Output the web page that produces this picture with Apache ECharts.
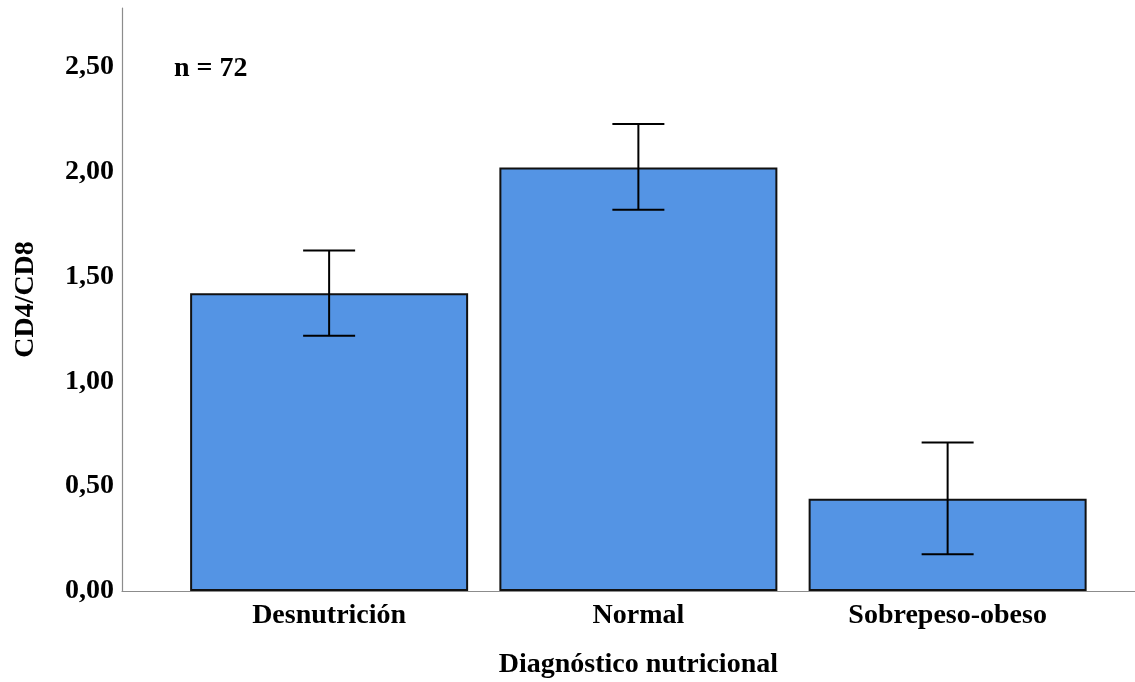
<!DOCTYPE html>
<html>
<head>
<meta charset="utf-8">
<script src="https://cdn.jsdelivr.net/npm/echarts@6/dist/echarts.min.js"></script>
<style>html,body{margin:0;padding:0;background:#fff}#c{width:1135px;height:682px}</style>
</head>
<body>
<div id="c"></div>
<script>
const categories = ['Desnutrición', 'Normal', 'Sobrepeso-obeso'];
const means = [1.42, 2.02, 0.44];
const ciLow = [1.217, 1.818, 0.175];
const ciHigh = [1.624, 2.227, 0.708];
const yTicks = [0, 0.5, 1.0, 1.5, 2.0, 2.5];

const FONT = '"Liberation Serif", "Times New Roman", serif';
const FS = 28;
const yMin = 0, yMax = 2.78;

const chart = echarts.init(document.getElementById('c'));
chart.setOption({
  animation: false,
  grid: [
    { left: 122, right: 0, top: 8, bottom: 91, outerBoundsMode: 'none', containLabel: false },
    { left: 174.5, right: 32.75, top: 8, bottom: 91, outerBoundsMode: 'none', containLabel: false }
  ],
  xAxis: [
    { gridIndex: 0, type: 'category', data: [''], axisLine: { show: true, lineStyle: { color: '#8c8c8c', width: 1.2 } },
      axisTick: { show: false }, axisLabel: { show: false }, splitLine: { show: false } },
    { gridIndex: 1, type: 'category', data: categories, axisLine: { show: false }, axisTick: { show: false },
      axisLabel: { color: '#000', fontFamily: FONT, fontWeight: 'bold', fontSize: FS, margin: 11 },
      name: 'Diagnóstico nutricional', nameLocation: 'middle', nameGap: 60,
      nameTextStyle: { color: '#000', fontFamily: FONT, fontWeight: 'bold', fontSize: FS } }
  ],
  yAxis: [
    { gridIndex: 0, type: 'value', min: yMin, max: yMax, interval: 0.5,
      axisLine: { show: true, lineStyle: { color: '#8c8c8c', width: 1.2 } }, axisTick: { show: false },
      splitLine: { show: false },
      axisLabel: { color: '#000', fontFamily: FONT, fontWeight: 'bold', fontSize: FS, margin: 8, showMaxLabel: false,
        padding: [7, 0, 0, 0],
        formatter: v => yTicks.some(t => Math.abs(t - v) < 1e-9) ? v.toFixed(2).replace('.', ',') : '' },
      name: 'CD4/CD8', nameLocation: 'middle', nameGap: 82, nameRotate: 90,
      nameTextStyle: { color: '#000', fontFamily: FONT, fontWeight: 'bold', fontSize: FS } },
    { gridIndex: 1, type: 'value', min: yMin, max: yMax, interval: 0.5, show: false }
  ],
  graphic: [
    { type: 'text', left: 174, top: 55, style: { text: 'n = 72', fill: '#000', font: 'bold ' + FS + 'px ' + FONT } }
  ],
  series: [
    { type: 'bar', xAxisIndex: 1, yAxisIndex: 1, data: means, barWidth: 278,
      itemStyle: { color: '#5494e4', borderColor: '#111', borderWidth: 2 } },
    { type: 'custom', xAxisIndex: 1, yAxisIndex: 1,
      data: categories.map((c, i) => [i, ciLow[i], ciHigh[i]]),
      renderItem: function (params, api) {
        const lo = api.coord([api.value(0), api.value(1)]);
        const hi = api.coord([api.value(0), api.value(2)]);
        const hw = 26;
        const st = { stroke: '#000', lineWidth: 2, fill: null };
        return { type: 'group', children: [
          { type: 'line', shape: { x1: hi[0], y1: hi[1], x2: lo[0], y2: lo[1] }, style: st },
          { type: 'line', shape: { x1: hi[0] - hw, y1: hi[1], x2: hi[0] + hw, y2: hi[1] }, style: st },
          { type: 'line', shape: { x1: lo[0] - hw, y1: lo[1], x2: lo[0] + hw, y2: lo[1] }, style: st }
        ] };
      },
      z: 5 }
  ]
});
</script>
</body>
</html>
